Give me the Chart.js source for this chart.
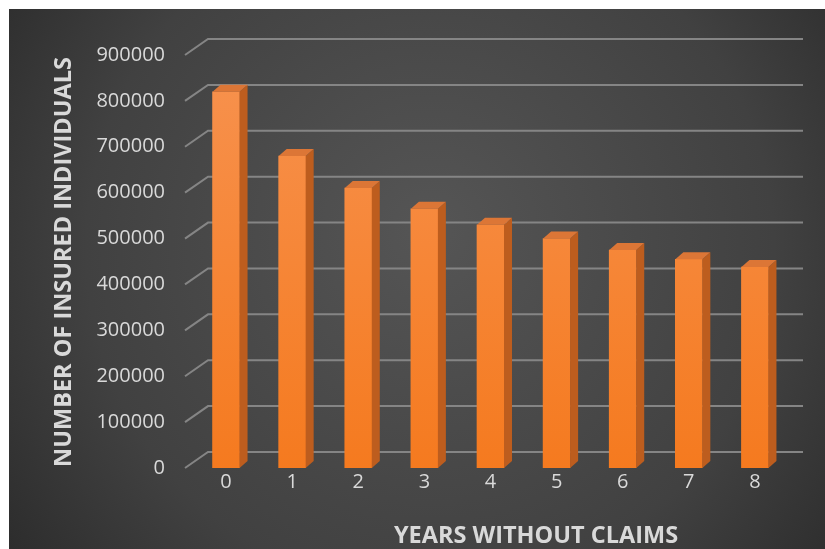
<!DOCTYPE html>
<html>
<head>
<meta charset="utf-8">
<script src="https://cdn.jsdelivr.net/npm/chart.js@4.4.1/dist/chart.umd.min.js"></script>
<style>
  html, body { margin: 0; padding: 0; background: #fff; }
  #wrap { width: 825px; height: 549px; }
</style>
</head>
<body>
<div id="wrap"><canvas id="myChart" width="825" height="549"></canvas></div>
<script>
const years = ["0", "1", "2", "3", "4", "5", "6", "7", "8"];
const insured = [820000, 680000, 610000, 565000, 530000, 500000, 475000, 455000, 438000];
const yTicks = [0, 100000, 200000, 300000, 400000, 500000, 600000, 700000, 800000, 900000];

const yTitle = "NUMBER OF INSURED INDIVIDUALS";
const xTitle = "YEARS WITHOUT CLAIMS";

// depth of the fake 3d
const DX = 8, DY = -7;
const GX = 23, GY = -16;

// background: white frame + dark radial panel
const panelBg = {
  id: "panelBg",
  beforeDraw(chart) {
    const ctx = chart.ctx;
    ctx.save();
    ctx.fillStyle = "#ffffff";
    ctx.fillRect(0, 0, chart.width, chart.height);
    const g = ctx.createRadialGradient(430, 230, 20, 430, 260, 560);
    g.addColorStop(0, "#545454");
    g.addColorStop(0.6, "#414141");
    g.addColorStop(1, "#272727");
    ctx.fillStyle = g;
    ctx.fillRect(9, 9, chart.width - 9, chart.height - 9);
    ctx.restore();
  }
};

// gridlines with the side-wall diagonal
const wallGrid = {
  id: "wallGrid",
  beforeDatasetsDraw(chart) {
    const ctx = chart.ctx;
    const y = chart.scales.y;
    const area = chart.chartArea;
    ctx.save();
    ctx.strokeStyle = "#858585";
    ctx.lineWidth = 2;
    yTicks.forEach(v => {
      const py = y.getPixelForValue(v);
      ctx.beginPath();
      ctx.moveTo(area.left - 8, py);
      ctx.lineTo(area.left - 8 + GX, py + GY);
      ctx.lineTo(area.right + 15, py + GY);
      ctx.stroke();
    });
    ctx.restore();
  },
  afterDatasetsDraw(chart) {
    const ctx = chart.ctx;
    const meta = chart.getDatasetMeta(0);
    ctx.save();
    meta.data.forEach(bar => {
      const p = bar.getProps(["x", "y", "base", "width"], true);
      const l = p.x - p.width / 2, r = p.x + p.width / 2;
      // side face
      ctx.fillStyle = "#bd5d1e";
      ctx.beginPath();
      ctx.moveTo(r, p.y);
      ctx.lineTo(r + DX, p.y + DY);
      ctx.lineTo(r + DX, p.base + DY);
      ctx.lineTo(r, p.base);
      ctx.closePath();
      ctx.fill();
      // top face
      ctx.fillStyle = "#dc7636";
      ctx.beginPath();
      ctx.moveTo(l, p.y);
      ctx.lineTo(r, p.y);
      ctx.lineTo(r + DX, p.y + DY);
      ctx.lineTo(l + DX, p.y + DY);
      ctx.closePath();
      ctx.fill();
    });
    ctx.restore();
  }
};

// axis titles
const axisTitles = {
  id: "axisTitles",
  afterDraw(chart) {
    const ctx = chart.ctx;
    const area = chart.chartArea;
    ctx.save();
    ctx.fillStyle = "#d9d9d9";
    ctx.font = "bold 23.5px 'Open Sans'";
    ctx.textAlign = "center";
    ctx.textBaseline = "middle";
    ctx.fillText(xTitle, area.left + 343, 536);
    ctx.font = "bold 23.5px 'Open Sans'";
    ctx.translate(64, 262);
    ctx.rotate(-Math.PI / 2);
    ctx.fillText(yTitle, 0, 0);
    ctx.restore();
  }
};

new Chart("myChart", {
  type: "bar",
  data: {
    labels: years,
    datasets: [{
      data: insured,
      barThickness: 27,
      backgroundColor: (c) => {
        const area = c.chart.chartArea;
        if (!area) return "#f4812f";
        const g = c.chart.ctx.createLinearGradient(0, area.top, 0, area.bottom);
        g.addColorStop(0, "#f7924f");
        g.addColorStop(1, "#f57a1f");
        return g;
      }
    }]
  },
  options: {
    responsive: false,
    animation: false,
    layout: { padding: { left: 0, right: 37, top: 55, bottom: 0 } },
    plugins: {
      legend: { display: false },
      tooltip: { enabled: false }
    },
    scales: {
      x: {
        grid: { display: false, drawTicks: false },
        border: { display: false },
        ticks: { color: "#d9d9d9", font: { family: "Open Sans", size: 20 }, padding: 2 },
        afterFit(scale) { scale.height = 81; }
      },
      y: {
        min: 0,
        max: 900000,
        afterBuildTicks(scale) { scale.ticks = yTicks.map(v => ({ value: v })); },
        grid: { display: false, drawTicks: false },
        border: { display: false },
        ticks: {
          color: "#d9d9d9",
          font: { family: "Open Sans", size: 20 },
          padding: 28,
          callback: (v) => String(v)
        },
        afterFit(scale) { scale.width = 193; }
      }
    }
  },
  plugins: [panelBg, wallGrid, axisTitles]
});
</script>
</body>
</html>
